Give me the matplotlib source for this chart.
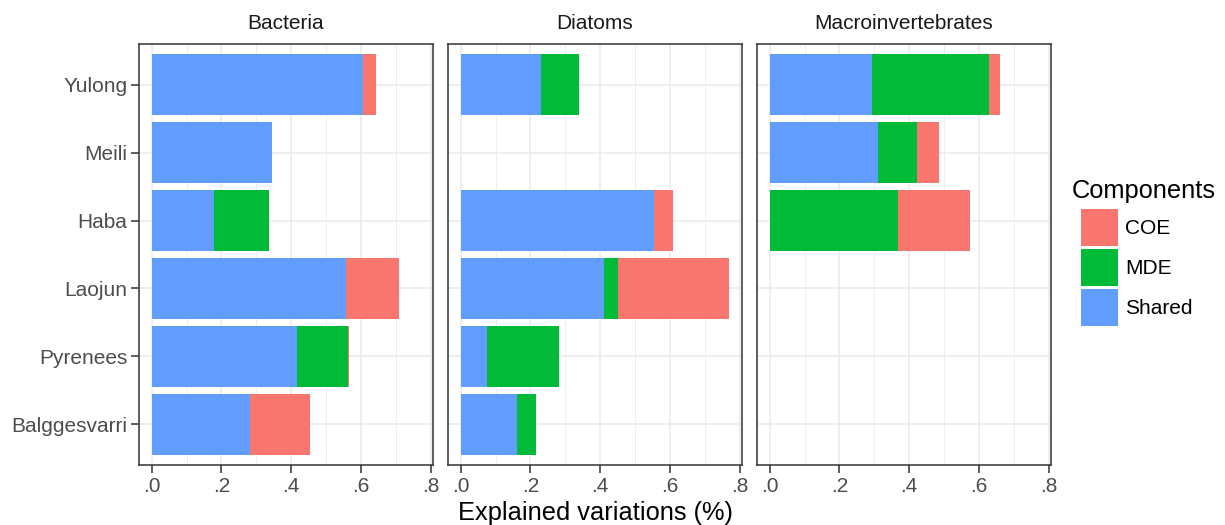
import matplotlib
matplotlib.use("Agg")
import numpy as np
import matplotlib.pyplot as plt
from matplotlib.patches import Patch
from matplotlib.ticker import FuncFormatter, MultipleLocator

plt.rcParams['font.family'] = ['Liberation Sans', 'DejaVu Sans']

# sites listed top to bottom as in the chart
sites = ["Yulong", "Meili", "Haba", "Laojun", "Pyrenees", "Balggesvarri"]
groups = ["Bacteria", "Diatoms", "Macroinvertebrates"]
components = ["Shared", "MDE", "COE"]

shared = {
    "Bacteria": [0.606, 0.344, 0.180, 0.558, 0.417, 0.283],
    "Diatoms": [0.231, 0.0, 0.553, 0.410, 0.075, 0.161],
    "Macroinvertebrates": [0.293, 0.310, 0.0, 0.0, 0.0, 0.0],
}
mde = {
    "Bacteria": [0.0, 0.0, 0.157, 0.0, 0.145, 0.0],
    "Diatoms": [0.108, 0.0, 0.0, 0.041, 0.206, 0.056],
    "Macroinvertebrates": [0.337, 0.112, 0.367, 0.0, 0.0, 0.0],
}
coe = {
    "Bacteria": [0.038, 0.0, 0.0, 0.151, 0.003, 0.172],
    "Diatoms": [0.0, 0.0, 0.057, 0.318, 0.0, 0.0],
    "Macroinvertebrates": [0.029, 0.063, 0.208, 0.0, 0.0, 0.0],
}

colors = {"COE": "#F8766D", "MDE": "#00BA38", "Shared": "#619CFF"}
values = {"Shared": shared, "MDE": mde, "COE": coe}

fig = plt.figure(figsize=(12.25, 5.25), dpi=100)
W, H = 1225, 525
lefts = [139, 448, 757]

sites_up = sites[::-1]  # bottom to top for the axis

for i, g in enumerate(groups):
    ax = fig.add_axes([lefts[i] / W, 60 / H, 294 / W, 421 / H])
    left = np.zeros(len(sites))
    for comp in components:
        v = np.array(values[comp][g][::-1])
        ax.barh(sites_up, v, left=left, height=0.9, color=colors[comp],
                linewidth=0, zorder=2)
        left += v

    ax.set_xlim(-0.0364, 0.8066)
    ax.set_ylim(-0.6, 5.6)
    ax.set_xticks([0, 0.2, 0.4, 0.6, 0.8])
    ax.xaxis.set_minor_locator(MultipleLocator(0.1))
    ax.xaxis.set_major_formatter(FuncFormatter(lambda x, p: ("%.1f" % x).lstrip("0")))
    ax.set_axisbelow(True)
    ax.grid(which="major", color="#EBEBEB", lw=1.2)
    ax.grid(which="minor", axis="x", color="#EBEBEB", lw=0.6)
    ax.tick_params(which="minor", length=0)
    ax.tick_params(which="major", length=5.5, width=1.1, color="#333333",
                   labelcolor="#4D4D4D", labelsize=15, pad=3)
    for s in ax.spines.values():
        s.set_color("#333333")
        s.set_linewidth(1.1)
    if i > 0:
        ax.tick_params(axis="y", left=False, labelleft=False)
    ax.set_title(g, fontsize=15, color="#1A1A1A", pad=11)

fig.text(595 / W, 1 - 513 / H, "Explained variations (%)", fontsize=18.3,
         ha="center", va="center")

# legend: title as separate text so the keys can sit indented under it
fig.text(1072 / W, 1 - 191 / H, "Components", fontsize=18.3,
         ha="left", va="center")
handles = [Patch(facecolor=colors[c], edgecolor="none", label=c)
           for c in ["COE", "MDE", "Shared"]]
fig.legend(handles=handles, loc="upper left",
           bbox_to_anchor=(1081 / W, 1 - 209 / H), frameon=False,
           fontsize=15, handlelength=1.78, handleheight=2.355,
           labelspacing=0.15, handletextpad=0.34,
           borderpad=0, borderaxespad=0)

fig.savefig("out.png", dpi=100)
